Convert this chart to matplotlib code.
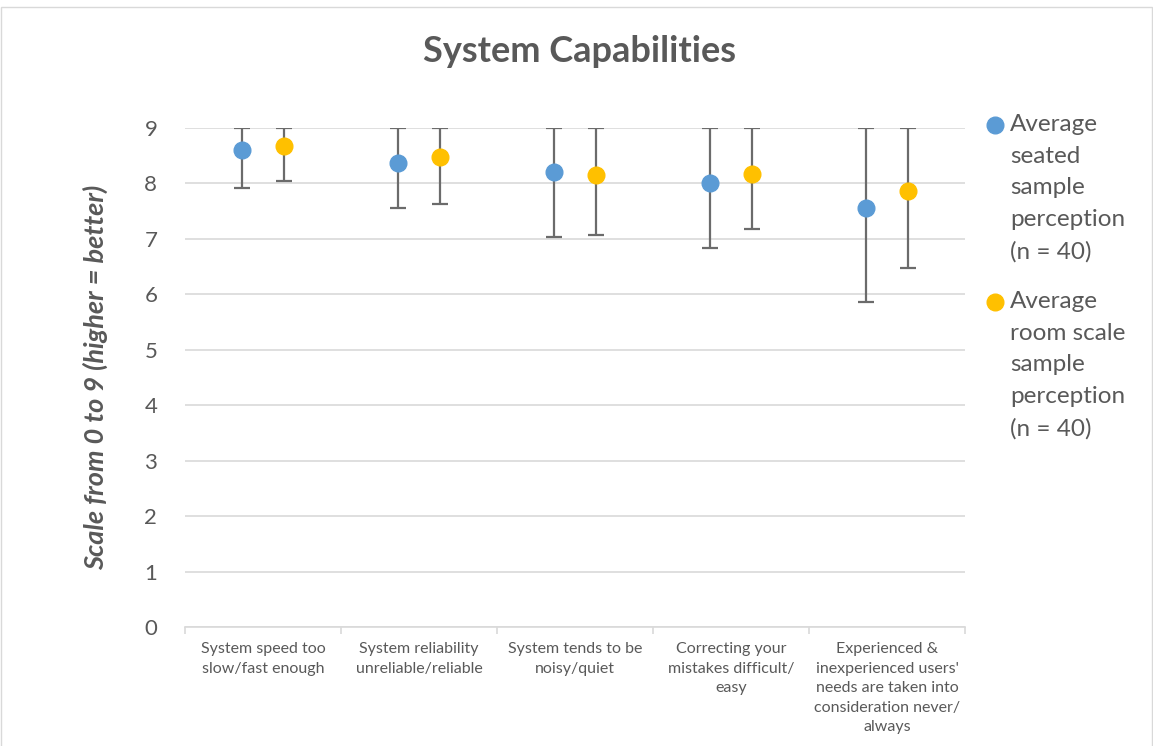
import matplotlib
matplotlib.use("Agg")
import matplotlib.pyplot as plt
from matplotlib.lines import Line2D
from matplotlib.patches import Rectangle
import numpy as np

plt.rcParams['font.family'] = ['Lato', 'DejaVu Sans']

categories = [
    "System speed too\nslow/fast enough",
    "System reliability\nunreliable/reliable",
    "System tends to be\nnoisy/quiet",
    "Correcting your\nmistakes difficult/\neasy",
    "Experienced &\ninexperienced users'\nneeds are taken into\nconsideration never/\nalways",
]

seated_mean = [8.60, 8.37, 8.21, 8.00, 7.55]
seated_low = [7.92, 7.56, 7.03, 6.83, 5.86]
seated_high = [9, 9, 9, 9, 9]

room_mean = [8.68, 8.48, 8.15, 8.17, 7.86]
room_low = [8.04, 7.63, 7.07, 7.18, 6.47]
room_high = [9, 9, 9, 9, 9]

series = [
    ("Average\nseated\nsample\nperception\n(n = 40)", seated_mean, seated_low, seated_high, "#5B9BD5"),
    ("Average\nroom scale\nsample\nperception\n(n = 40)", room_mean, room_low, room_high, "#FFC000"),
]

fig = plt.figure(figsize=(11.53, 7.46), dpi=100)
ax = fig.add_axes([0.1605, 0.1595, 0.837 - 0.1605, 0.8284 - 0.1595])

x = np.arange(len(categories))
offsets = [-0.135, 0.135]
for (label, mean, low, high, color), off in zip(series, offsets):
    mean = np.array(mean)
    err = [mean - np.array(low), np.array(high) - mean]
    ax.errorbar(x + off, mean, yerr=err, fmt="none", ecolor="#6b6b6b",
                elinewidth=1.6, capsize=6, capthick=1.6, zorder=2)
    ax.plot(x + off, mean, "o", color=color, ms=12, zorder=3, label=label)

ax.set_xlim(-0.5, len(categories) - 0.5)
ax.set_ylim(0, 9)
ax.set_yticks(range(0, 10))
ax.yaxis.grid(True, color="#d9d9d9", lw=1.2)
ax.set_axisbelow(True)
for s in ["top", "right", "left"]:
    ax.spines[s].set_visible(False)
ax.spines["bottom"].set_color("#d9d9d9")
ax.spines["bottom"].set_linewidth(1.2)
ax.tick_params(axis="y", length=0, labelsize=16, labelcolor="#595959", pad=20)

# category labels centred, tick marks on the boundaries
ax.set_xticks(np.arange(-0.5, len(categories), 1.0))
ax.set_xticklabels([])
ax.tick_params(axis="x", length=5, color="#d9d9d9", width=1.2)
ax.set_xticks(x, minor=True)
ax.set_xticklabels(categories, minor=True, fontsize=11.5, color="#595959",
                   linespacing=1.5)
ax.tick_params(axis="x", which="minor", length=0, pad=11)

ax.set_ylabel("Scale from 0 to 9 (higher = better)", fontsize=19.5,
              fontstyle="italic", fontweight="bold", color="#595959", labelpad=26)

fig.text(0.503, 0.931, "System Capabilities", ha="center", va="center",
         fontsize=26, fontweight="bold", color="#595959")

# legend drawn beside the plot, marker beside the first line
leg_x = 995 / 1153
leg_y = [1 - 125 / 746, 1 - 302 / 746]
for (label, _, _, _, color), ly in zip(series, leg_y):
    fig.add_artist(Line2D([leg_x], [ly], marker="o", color=color, ms=12,
                          ls="none", transform=fig.transFigure))
    fig.text(leg_x + 15 / 1153, ly + 11 / 746, label, ha="left", va="top",
             fontsize=17.5, color="#595959", linespacing=1.63)

fig.add_artist(Rectangle((0.0005, -0.01), 0.9985, 1.0, fill=False,
                         edgecolor="#d9d9d9", lw=1, transform=fig.transFigure))

fig.savefig("out.png", dpi=100)
